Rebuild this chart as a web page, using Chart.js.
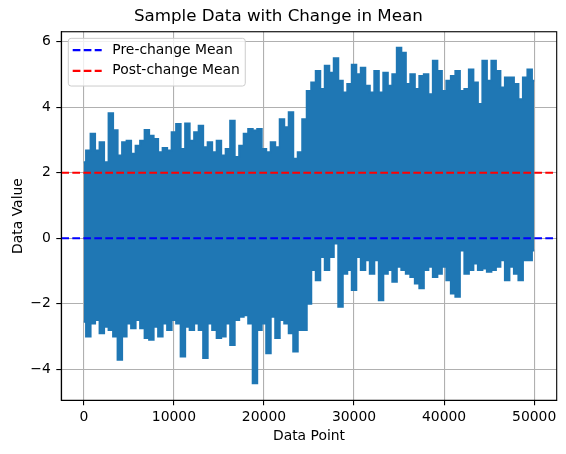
<!DOCTYPE html>
<html>
<head>
<meta charset="utf-8">
<script src="https://cdn.jsdelivr.net/npm/chart.js@4/dist/chart.umd.min.js"></script>
<style>
  html, body { margin: 0; padding: 0; background: #ffffff; }
  #wrap { width: 566px; height: 454px; }
</style>
</head>
<body>
<div id="wrap"><canvas id="c" width="566" height="454"></canvas></div>
<script>
// ---- Data ----
// Envelope of the noisy series, sampled every SAMPLE_STEP data points.
const SAMPLE_STEP = 500;
const upperEnvelope = [
  2.32, 2.68, 3.19, 2.68, 2.93, 2.32, 3.82, 3.30, 2.53, 2.93,
  2.98, 2.58, 2.83, 2.98, 3.31, 3.13, 3.03, 2.63, 2.76, 2.68,
  3.24, 3.49, 2.73, 3.51, 2.98, 3.24, 3.44, 2.78, 2.93, 2.63,
  2.98, 2.53, 2.73, 3.59, 2.48, 2.83, 3.19, 3.34, 3.29, 3.34,
  2.73, 2.63, 2.93, 2.78, 3.64, 3.39, 3.85, 2.43, 2.63, 3.64,
  4.50, 4.76, 5.11, 4.56, 5.27, 5.06, 5.50, 4.81, 4.45, 4.71,
  5.30, 5.01, 5.21, 4.66, 4.45, 5.11, 4.45, 5.06, 4.66, 5.01,
  5.82, 5.67, 4.71, 5.01, 4.56, 4.96, 5.01, 4.40, 5.42, 5.11,
  4.50, 4.81, 4.96, 5.11, 4.50, 4.56, 5.16, 4.76, 4.10, 5.42,
  4.81, 5.42, 5.11, 4.61, 4.91, 4.91, 4.71, 4.25, 4.91, 5.16,
  4.81
];
const lowerEnvelope = [
  -2.55, -3.00, -2.60, -2.50, -2.90, -2.70, -2.80, -3.00, -3.71, -3.00,
  -2.60, -2.75, -2.50, -2.75, -3.05, -3.10, -2.70, -3.00, -2.60, -2.80,
  -2.50, -2.60, -3.61, -2.70, -2.80, -2.60, -2.80, -3.66, -2.60, -2.80,
  -3.05, -3.00, -2.60, -3.26, -2.50, -2.40, -2.35, -2.60, -4.43, -2.80,
  -2.60, -3.51, -2.40, -3.05, -2.50, -2.60, -2.90, -3.46, -2.80, -2.80,
  -2.00, -0.97, -1.28, -0.57, -0.97, -0.57, -0.16, -2.09, -1.08, -0.97,
  -1.58, -0.57, -0.97, -0.67, -1.08, -0.67, -1.89, -1.08, -0.97, -1.33,
  -0.87, -0.97, -1.08, -1.18, -1.38, -1.53, -0.97, -0.87, -1.18, -1.08,
  -0.87, -1.28, -1.69, -1.79, -0.37, -1.08, -0.97, -0.77, -0.97, -0.92,
  -1.02, -0.97, -0.87, -0.67, -1.28, -0.87, -1.08, -1.28, -0.67, -0.67,
  -0.37
];
const preChangeMean = 0;
const postChangeMean = 2;
const xTicks = [0, 10000, 20000, 30000, 40000, 50000];
const yTicks = [-4, -2, 0, 2, 4, 6];
const xLimits = [-2500, 52500];
const yLimits = [-4.95, 6.31];
const titleText = 'Sample Data with Change in Mean';
const xLabel = 'Data Point';
const yLabel = 'Data Value';
const preLabel = 'Pre-change Mean';
const postLabel = 'Post-change Mean';

// ---- Build chart ----
const FONT = 'DejaVu Sans';
const FS = 13.9;
const LINE_BLUE = '#1f77b4';
const DASH = [7.7, 3.3];

const upperPts = upperEnvelope.map((v, i) => ({ x: i * SAMPLE_STEP, y: v }));
const lowerPts = lowerEnvelope.map((v, i) => ({ x: i * SAMPLE_STEP, y: v }));
const hline = v => [{ x: xLimits[0], y: v }, { x: xLimits[1], y: v }];

const fmt = v => (v < 0 ? '\u2212' + Math.abs(v) : String(v));

const framePlugin = {
  id: 'frameAndLegend',
  afterDatasetsDraw(chart) {
    const ctx = chart.ctx;
    const a = chart.chartArea;
    ctx.save();
    // axes frame
    ctx.strokeStyle = '#000000';
    ctx.lineWidth = 1.1;
    ctx.setLineDash([]);
    ctx.strokeRect(a.left, a.top, a.right - a.left, a.bottom - a.top);

    // legend box
    const items = chart.data.datasets.filter(d => d.showInLegend);
    ctx.font = FS + 'px "' + FONT + '"';
    let maxW = 0;
    items.forEach(d => { maxW = Math.max(maxW, ctx.measureText(d.label).width); });
    const bx = a.left + 7, by = a.top + 6.6;
    const textX = bx + 44;
    const bw = (textX - bx) + maxW + 5.5;
    const rowH = 20.7;
    const bh = 47.7;
    const r = 2.8;
    ctx.beginPath();
    ctx.moveTo(bx + r, by);
    ctx.lineTo(bx + bw - r, by);
    ctx.arcTo(bx + bw, by, bx + bw, by + r, r);
    ctx.lineTo(bx + bw, by + bh - r);
    ctx.arcTo(bx + bw, by + bh, bx + bw - r, by + bh, r);
    ctx.lineTo(bx + r, by + bh);
    ctx.arcTo(bx, by + bh, bx, by + bh - r, r);
    ctx.lineTo(bx, by + r);
    ctx.arcTo(bx, by, bx + r, by, r);
    ctx.closePath();
    ctx.fillStyle = 'rgba(255,255,255,0.8)';
    ctx.fill();
    ctx.strokeStyle = '#cccccc';
    ctx.lineWidth = 1;
    ctx.stroke();

    items.forEach((d, i) => {
      const y = by + 11.8 + i * rowH;
      ctx.beginPath();
      ctx.setLineDash(d.borderDash);
      ctx.strokeStyle = d.borderColor;
      ctx.lineWidth = d.borderWidth;
      ctx.moveTo(bx + 4.4, y);
      ctx.lineTo(bx + 33.4, y);
      ctx.stroke();
      ctx.setLineDash([]);
      ctx.fillStyle = '#000000';
      ctx.textBaseline = 'middle';
      ctx.textAlign = 'left';
      ctx.fillText(d.label, textX, y);
    });
    ctx.restore();
  }
};

new Chart(document.getElementById('c'), {
  type: 'line',
  data: {
    datasets: [
      {
        label: preLabel, showInLegend: true,
        data: hline(preChangeMean),
        borderColor: '#0000ff', borderWidth: 2.08, borderDash: DASH,
        pointRadius: 0, fill: false
      },
      {
        label: postLabel, showInLegend: true,
        data: hline(postChangeMean),
        borderColor: '#ff0000', borderWidth: 2.08, borderDash: DASH,
        pointRadius: 0, fill: false
      },
      {
        label: 'upper', showInLegend: false,
        data: upperPts,
        borderColor: LINE_BLUE, backgroundColor: LINE_BLUE, borderWidth: 2,
        pointRadius: 0, fill: '+1', stepped: 'middle'
      },
      {
        label: 'lower', showInLegend: false,
        data: lowerPts,
        borderColor: LINE_BLUE, backgroundColor: LINE_BLUE, borderWidth: 2,
        pointRadius: 0, fill: false, stepped: 'middle'
      }
    ]
  },
  options: {
    responsive: false,
    animation: false,
    events: [],
    layout: { padding: { top: 0, left: 0, right: 9.3, bottom: 0 } },
    plugins: {
      legend: { display: false },
      tooltip: { enabled: false },
      title: {
        display: true,
        text: titleText,
        color: '#000000',
        font: { family: FONT, size: 16.7, weight: 'normal' },
        padding: { top: 6.7, bottom: 5 }
      }
    },
    scales: {
      x: {
        type: 'linear',
        min: xLimits[0], max: xLimits[1],
        afterBuildTicks: s => { s.ticks = xTicks.map(v => ({ value: v })); },
        afterFit: s => { s.height = 53.7; },
        ticks: {
          callback: v => fmt(v),
          color: '#000000',
          font: { family: FONT, size: FS },
          padding: 4,
          maxRotation: 0, autoSkip: false
        },
        grid: {
          color: '#b0b0b0', lineWidth: 1.1,
          drawTicks: true, tickLength: 5, tickColor: '#000000', tickWidth: 1.1
        },
        border: { display: true, color: '#000000', width: 1.1 },
        title: {
          display: true, text: xLabel, color: '#000000',
          font: { family: FONT, size: FS },
          padding: { top: 0, bottom: 8.8 }
        }
      },
      y: {
        type: 'linear',
        min: yLimits[0], max: yLimits[1],
        afterBuildTicks: s => { s.ticks = yTicks.map(v => ({ value: v })); },
        afterFit: s => { s.width = 61.3; },
        ticks: {
          callback: v => fmt(v),
          color: '#000000',
          font: { family: FONT, size: FS },
          padding: 5.5,
          autoSkip: false
        },
        grid: {
          color: '#b0b0b0', lineWidth: 1.1,
          drawTicks: true, tickLength: 5, tickColor: '#000000', tickWidth: 1.1
        },
        border: { display: true, color: '#000000', width: 1.1 },
        title: {
          display: true, text: yLabel, color: '#000000',
          font: { family: FONT, size: FS },
          padding: { top: 9.6, bottom: 0 }
        }
      }
    }
  },
  plugins: [framePlugin]
});
</script>
</body>
</html>
